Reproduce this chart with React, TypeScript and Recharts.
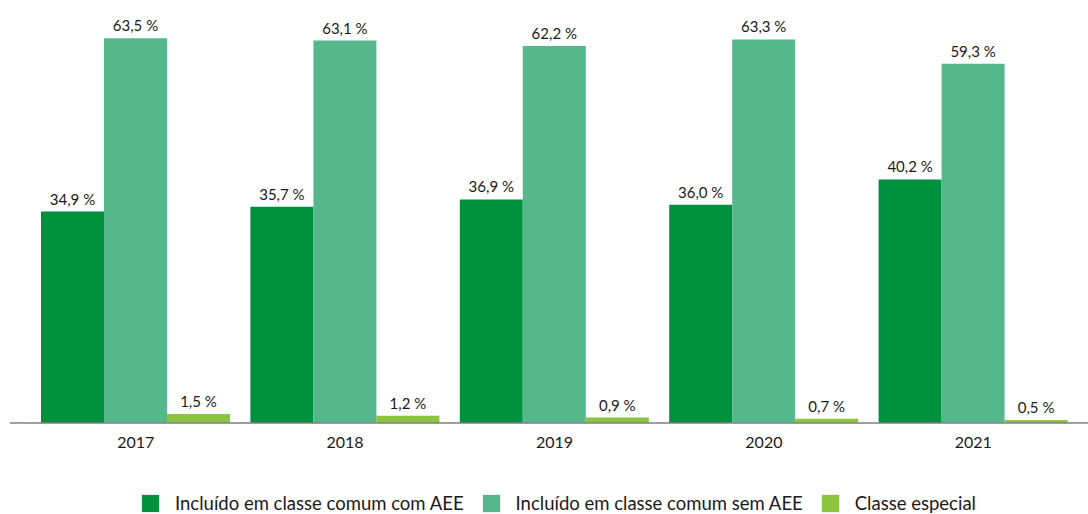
import React from 'react'
import { Bar, BarChart, LabelList, Legend, XAxis, YAxis } from 'recharts'

const years = ['2017', '2018', '2019', '2020', '2021']
const comAEE = [34.9, 35.7, 36.9, 36.0, 40.2]
const semAEE = [63.5, 63.1, 62.2, 63.3, 59.3]
const especial = [1.5, 1.2, 0.9, 0.7, 0.5]

const series = [
  { key: 'comAEE', name: 'Incluído em classe comum com AEE', color: '#00913f' },
  { key: 'semAEE', name: 'Incluído em classe comum sem AEE', color: '#55b78c' },
  { key: 'especial', name: 'Classe especial', color: '#8cc43f' },
]

const data = years.map((year, i) => ({
  year,
  comAEE: comAEE[i],
  semAEE: semAEE[i],
  especial: especial[i],
}))

const FONT = 'Lato, "Open Sans", sans-serif'

const fmt = (v: any) => `${Number(v).toFixed(1).replace('.', ',')} %`

function LegendContent() {
  return (
    <div style={{ display: 'flex', justifyContent: 'flex-start', alignItems: 'center', height: 22, paddingLeft: 141, fontFamily: FONT, fontSize: 18.5, color: '#1a1a1a' }}>
      {series.map((s) => (
        <div key={s.key} style={{ display: 'flex', alignItems: 'center', marginRight: 18 }}>
          <span style={{ width: 19, height: 19, background: s.color, border: '1px solid #eee', boxSizing: 'border-box', marginRight: 15 }} />
          <span>{s.name}</span>
        </div>
      ))}
    </div>
  )
}

export default function App() {
  return (
    <div style={{ position: 'absolute', left: 0, top: 0, background: '#fff' }}>
      <BarChart
        width={1088}
        height={514}
        data={data}
        margin={{ top: 0, right: 0, bottom: 0, left: 10 }}
        barCategoryGap={10}
        barGap={0}
      >
        <XAxis
          dataKey="year"
          padding={{ left: 21, right: 10 }}
          axisLine={{ stroke: '#7f7f7f', strokeWidth: 1.5 }}
          tickLine={false}
          tick={{ fill: '#1a1a1a', fontSize: 16, fontFamily: FONT }}
          tickMargin={8}
          height={69}
        />
        <YAxis hide domain={[0, 69.8]} />
        <Legend verticalAlign="bottom" height={22} wrapperStyle={{ bottom: 0, left: 0, width: 1088 }} content={<LegendContent />} />
        {series.map((s) => (
          <Bar key={s.key} dataKey={s.key} name={s.name} fill={s.color} isAnimationActive={false}>
            <LabelList
              dataKey={s.key}
              position="top"
              offset={7}
              formatter={fmt}
              style={{ fill: '#1a1a1a', fontSize: 15, fontFamily: FONT }}
            />
          </Bar>
        ))}
      </BarChart>
    </div>
  )
}
